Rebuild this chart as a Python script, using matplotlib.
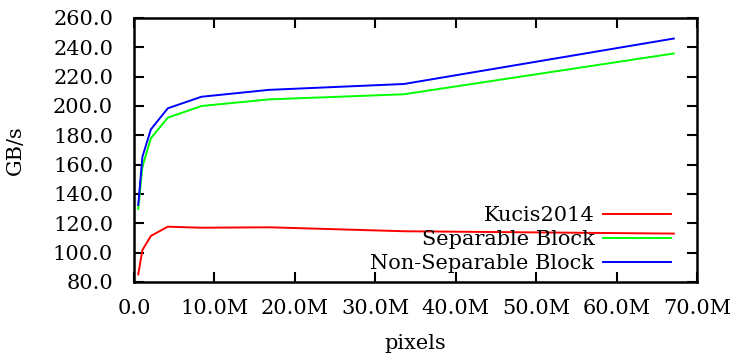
import matplotlib
matplotlib.use("Agg")
import matplotlib.pyplot as plt
from matplotlib.ticker import FuncFormatter, MultipleLocator

# image sizes in pixels (2^19 .. 2^26)
pixels = [524288, 1048576, 2097152, 4194304, 8388608, 16777216, 33554432, 67108864]

kucis = [85.2, 101.8, 111.4, 117.7, 117.0, 117.3, 114.6, 113.0]
separable = [129.8, 158.6, 178.0, 192.0, 200.0, 204.5, 208.0, 235.8]
non_separable = [132.5, 165.4, 184.0, 198.4, 206.3, 211.0, 215.0, 246.0]

series = [
    ("Kucis2014", kucis, "#ff0000"),
    ("Separable Block", separable, "#00ff00"),
    ("Non-Separable Block", non_separable, "#0000ff"),
]

plt.rcParams["font.family"] = "DejaVu Serif"
plt.rcParams["font.size"] = 15

fig = plt.figure(figsize=(7.33, 3.57), dpi=100)
ax = fig.add_axes([0.1828, 0.2101, 0.951 - 0.1828, 0.9496 - 0.2101])

for name, vals, col in series:
    ax.plot(pixels, vals, color=col, lw=1.4, label=name)

ax.set_xlim(0, 70e6)
ax.set_ylim(80, 260)
ax.xaxis.set_major_locator(MultipleLocator(10e6))
ax.yaxis.set_major_locator(MultipleLocator(20))
ax.xaxis.set_major_formatter(FuncFormatter(lambda v, p: "0.0" if v == 0 else f"{v / 1e6:.1f}M"))
ax.yaxis.set_major_formatter(FuncFormatter(lambda v, p: f"{v:.1f}"))
ax.tick_params(direction="in", length=7, width=1.5, top=True, right=True)
ax.tick_params(axis="x", pad=12)
ax.tick_params(axis="y", pad=15)
for sp in ax.spines.values():
    sp.set_linewidth(1.8)

ax.set_xlabel("pixels", labelpad=12)
ax.set_ylabel("GB/s", labelpad=20)

leg = ax.legend(loc="lower right", bbox_to_anchor=(0.973, -0.005), frameon=False,
                markerfirst=False, handlelength=3.3, handletextpad=0.4,
                labelspacing=0.24, borderaxespad=0.1)

fig.savefig("out.png", dpi=100)
